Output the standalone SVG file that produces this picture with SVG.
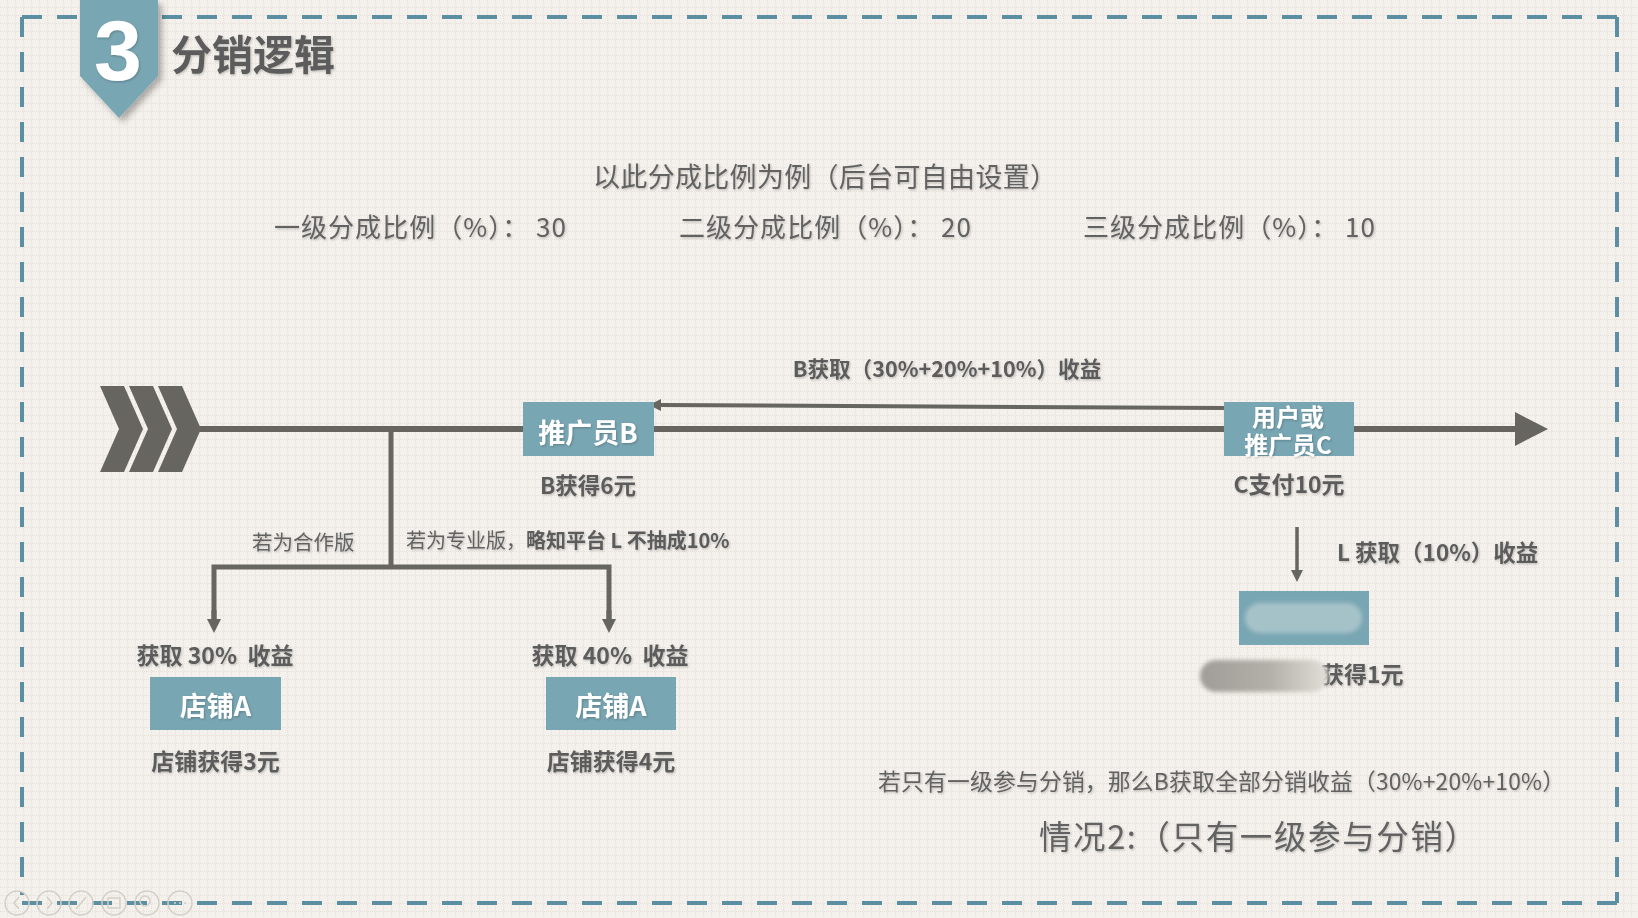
<svg xmlns="http://www.w3.org/2000/svg" width="1638" height="918" viewBox="0 0 1638 918">
<defs>
<pattern id="grid" width="8" height="8" patternUnits="userSpaceOnUse">
<path d="M7.5 0V8M0 7.5H8" stroke="#e5e1da" stroke-width="1" stroke-dasharray="1 1" fill="none"/>
</pattern>
<filter id="ts" x="-5%" y="-20%" width="110%" height="150%">
<feDropShadow dx="1" dy="1.2" stdDeviation="0.8" flood-color="#000" flood-opacity="0.22"/>
</filter>
<filter id="bs" x="-20%" y="-20%" width="150%" height="150%">
<feDropShadow dx="4" dy="4" stdDeviation="3" flood-color="#000" flood-opacity="0.3"/>
</filter>
<filter id="blur" x="-20%" y="-40%" width="140%" height="180%">
<feGaussianBlur stdDeviation="2"/>
</filter>
<linearGradient id="gpill" x1="0" y1="0" x2="1" y2="0">
<stop offset="0" stop-color="#a09d98"/>
<stop offset="0.55" stop-color="#b3b0aa"/>
<stop offset="1" stop-color="#e2dfd9"/>
</linearGradient>
<marker id="ahBig" markerUnits="userSpaceOnUse" markerWidth="14" markerHeight="14" viewBox="0 0 14 14" refX="0" refY="7" orient="auto">
<path d="M0,0 L14,7 L0,14 Z" fill="#666560"/>
</marker>
<marker id="ahSmall" markerUnits="userSpaceOnUse" markerWidth="12" markerHeight="12" viewBox="0 0 12 12" refX="0" refY="6" orient="auto">
<path d="M0,0 L12,6 L0,12 Z" fill="#666560"/>
</marker>
<style>
.t{font-family:"Noto Sans CJK SC","Noto Sans",sans-serif;fill:#626262}
.b{font-weight:bold;fill:#5c5c5c}
.w{font-family:"Noto Sans CJK SC","Noto Sans",sans-serif;font-weight:bold;fill:#ffffff}
.box{fill:#79a6b3}
.bd{stroke:#5b8fa1;stroke-width:4;stroke-dasharray:20 15;fill:none}
.ln{stroke:#666560;fill:none}
.nav{fill:none;stroke:#d3cfc8;stroke-width:1.5}
</style>
</defs>

<rect width="1638" height="918" fill="#f4f1ec"/>
<rect width="1638" height="918" fill="url(#grid)"/>

<g id="border">
<path class="bd" d="M22 17H1617"/>
<path class="bd" d="M22 17V895"/>
<path class="bd" d="M1617 17V903"/>
<path class="bd" d="M22 903H1617"/>
</g>

<g id="nav">
<circle class="nav" cx="17" cy="903" r="12"/>
<path class="nav" d="M19 897 L14 903 L19 909"/>
<circle class="nav" cx="49" cy="903" r="12"/>
<path class="nav" d="M47 897 L52 903 L47 909"/>
<circle class="nav" cx="81" cy="903" r="12"/>
<path class="nav" d="M76 909 L86 897"/>
<circle class="nav" cx="114" cy="903" r="12"/>
<rect class="nav" x="108" y="898" width="12" height="10"/>
<circle class="nav" cx="147" cy="903" r="12"/>
<circle class="nav" cx="145" cy="901" r="5"/>
<circle class="nav" cx="180" cy="903" r="12"/>
<path class="nav" d="M174 903H176M179 903H181M184 903H186"/>
</g>

<g id="badge">
<polygon points="80,0 158,0 158,76 119,118 80,76" fill="#79a6b3" filter="url(#bs)"/>
<text x="118" y="80" text-anchor="middle" font-family="'Liberation Sans',Arial,sans-serif" font-weight="bold" font-size="86" fill="#ffffff" filter="url(#ts)">3</text>
</g>

<g id="title">
<text class="t b" x="171" y="70" font-size="41" filter="url(#ts)">分销逻辑</text>
</g>

<g id="header-texts" filter="url(#ts)">
<text class="t" x="593" y="187" font-size="27" textLength="464" lengthAdjust="spacing">以此分成比例为例（后台可自由设置）</text>
<text class="t" x="274" y="237" font-size="26" xml:space="preserve" textLength="292" lengthAdjust="spacing">一级分成比例（%）： 30</text>
<text class="t" x="679" y="237" font-size="26" xml:space="preserve" textLength="292" lengthAdjust="spacing">二级分成比例（%）： 20</text>
<text class="t" x="1083" y="237" font-size="26" xml:space="preserve" textLength="292" lengthAdjust="spacing">三级分成比例（%）： 10</text>
</g>

<g id="connectors">
<polygon id="chev1" points="100,386 124,386 143,429 124,472 100,472 119,429" fill="#666560"/>
<polygon id="chev2" points="129,386 153,386 172,429 153,472 129,472 148,429" fill="#666560"/>
<polygon id="chev3" points="158,386 182,386 201,429 182,472 158,472 177,429" fill="#666560"/>
<line class="ln" x1="198" y1="429" x2="1518" y2="429" stroke-width="6"/>
<polygon points="1515,412 1548,429 1515,446" fill="#666560"/>
<line class="ln" x1="1226" y1="408" x2="661" y2="405" stroke-width="4" marker-end="url(#ahSmall)"/>
<path class="ln" d="M391 429V567" stroke-width="5"/>
<path class="ln" d="M214 619V567H609V619" stroke-width="5" stroke-linejoin="miter"/>
<line class="ln" x1="214" y1="610" x2="214" y2="619" stroke-width="5" marker-end="url(#ahBig)"/>
<line class="ln" x1="609" y1="610" x2="609" y2="619" stroke-width="5" marker-end="url(#ahBig)"/>
<line class="ln" x1="1297" y1="527" x2="1297" y2="570" stroke-width="3.5" marker-end="url(#ahSmall)"/>
</g>

<g id="node-b">
<rect class="box" x="523" y="402" width="131" height="54"/>
<text class="w" x="588" y="443" font-size="27" text-anchor="middle" filter="url(#ts)">推广员B</text>
<text class="t b" x="588" y="494" font-size="22.5" text-anchor="middle" filter="url(#ts)">B获得6元</text>
</g>

<g id="node-c">
<rect class="box" x="1224" y="402" width="130" height="54"/>
<text class="w" font-size="24" text-anchor="middle" filter="url(#ts)"><tspan x="1288" y="426">用户或</tspan><tspan x="1288" dy="28">推广员C</tspan></text>
<text class="t b" x="1289" y="493" font-size="23" text-anchor="middle" filter="url(#ts)">C支付10元</text>
</g>

<g id="label-b-gain" filter="url(#ts)">
<text class="t b" x="947" y="377" font-size="21.6" text-anchor="middle">B获取（30%+20%+10%）收益</text>
</g>

<g id="label-branches" filter="url(#ts)">
<text class="t" x="252" y="550" font-size="20.5">若为合作版</text>
<text class="t" x="406" y="548" font-size="20">若为专业版，<tspan class="b">略知平台 L 不抽成10%</tspan></text>
</g>

<g id="node-shop-a1">
<text class="t b" x="215" y="664" font-size="23" text-anchor="middle" filter="url(#ts)" xml:space="preserve">获取 30%  收益</text>
<rect class="box" x="150" y="677" width="131" height="53"/>
<text class="w" x="215.5" y="716" font-size="27" text-anchor="middle" filter="url(#ts)">店铺A</text>
<text class="t b" x="215.5" y="770" font-size="23" text-anchor="middle" filter="url(#ts)">店铺获得3元</text>
</g>

<g id="node-shop-a2">
<text class="t b" x="610" y="664" font-size="23" text-anchor="middle" filter="url(#ts)" xml:space="preserve">获取 40%  收益</text>
<rect class="box" x="546" y="677" width="130" height="53"/>
<text class="w" x="611" y="716" font-size="27" text-anchor="middle" filter="url(#ts)">店铺A</text>
<text class="t b" x="611" y="770" font-size="23" text-anchor="middle" filter="url(#ts)">店铺获得4元</text>
</g>

<g id="node-l">
<text class="t b" x="1337" y="561" font-size="22.5" filter="url(#ts)">L 获取（10%）收益</text>
<rect class="box" x="1239" y="591" width="130" height="54"/>
<rect x="1245" y="603" width="117" height="30" rx="15" fill="#a6c2c9" filter="url(#blur)"/>
<text class="t b" x="1321" y="683" font-size="23" filter="url(#ts)">获得1元</text>
<rect x="1200" y="660" width="128" height="32" rx="16" fill="url(#gpill)" filter="url(#blur)"/>
</g>

<g id="notes" filter="url(#ts)">
<text class="t" x="878" y="790" font-size="22.8" textLength="687" lengthAdjust="spacing">若只有一级参与分销，那么B获取全部分销收益（30%+20%+10%）</text>
<text class="t" x="1039" y="849" font-size="32.5" fill="#666666" textLength="438" lengthAdjust="spacing">情况2:（只有一级参与分销）</text>
</g>
</svg>
